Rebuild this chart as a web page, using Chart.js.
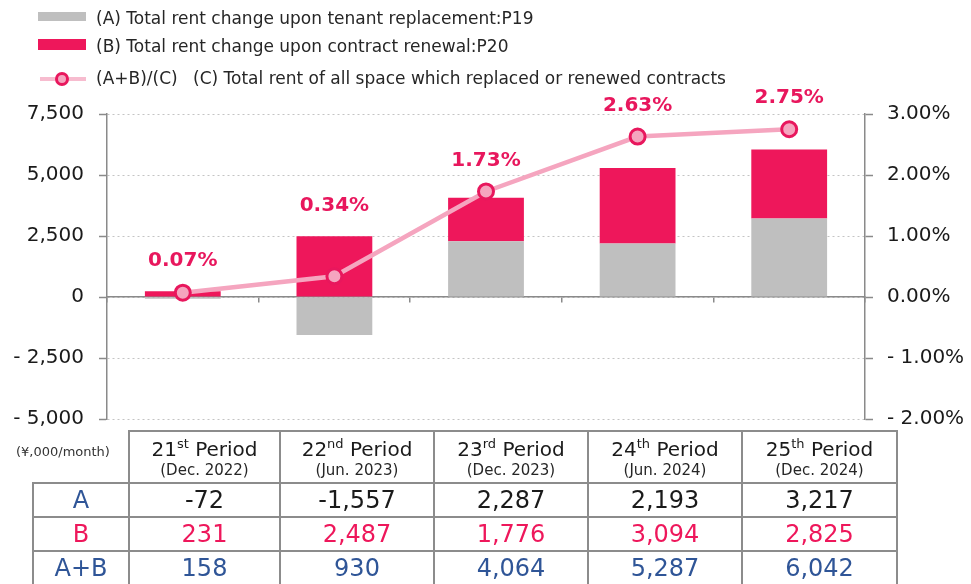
<!DOCTYPE html>
<html>
<head>
<meta charset="utf-8">
<script src="https://cdn.jsdelivr.net/npm/chart.js@4"></script>
<style>
html,body{margin:0;padding:0;background:#fff;}
body{width:971px;height:584px;position:relative;overflow:hidden;font-family:"DejaVu Sans",sans-serif;color:#262626;}
#c{position:absolute;left:0;top:0;}
.lg{position:absolute;font-size:17px;line-height:20px;white-space:nowrap;color:#262626;}
.sw{position:absolute;}
#unit{position:absolute;left:16px;top:443px;font-size:13px;line-height:18px;color:#333;white-space:nowrap;}
#tbl{position:absolute;left:32px;top:430px;border-collapse:collapse;table-layout:fixed;width:864px;}
#tbl td{border:2px solid #8C8C8C;text-align:center;padding:0;white-space:nowrap;}
#tbl td.blank{border:none;}
#tbl tr.hd td{height:50px;vertical-align:top;}
#tbl tr.row td{height:32px;font-size:24px;line-height:32px;}
.p1{font-size:20px;line-height:24px;padding-top:5px;color:#1a1a1a;}
.p1 sup{font-size:13px;line-height:0;vertical-align:8px;}
.p2{font-size:15px;line-height:18px;color:#262626;}
</style>
</head>
<body>
<canvas id="c" width="971" height="584"></canvas>

<div class="sw" style="left:38px;top:12px;width:48px;height:9px;background:#BFBFBF;"></div>
<div class="lg" id="lg1" style="left:96px;top:8px;"></div>
<div class="sw" style="left:38px;top:39px;width:48px;height:11px;background:#EE175B;"></div>
<div class="lg" id="lg2" style="left:96px;top:36px;"></div>
<div class="sw" style="left:40px;top:77px;width:46px;height:4px;background:#F7BCCF;"></div>
<div class="sw" style="left:55px;top:72px;width:8px;height:8px;border:3px solid #E8175D;border-radius:50%;background:#F5A5BF;"></div>
<div class="lg" id="lg3a" style="left:96px;top:68px;"></div>
<div class="lg" id="lg3b" style="left:193px;top:68px;"></div>

<div id="unit">(¥,000/month)</div>
<table id="tbl"></table>

<script>
// ---- data ----
const periodNums = ['21', '22', '23', '24', '25'];
const periodSuffix = ['st', 'nd', 'rd', 'th', 'th'];
const periodDates = ['(Dec. 2022)', '(Jun. 2023)', '(Dec. 2023)', '(Jun. 2024)', '(Dec. 2024)'];
const seriesA = [-72, -1557, 2287, 2193, 3217];
const seriesB = [231, 2487, 1776, 3094, 2825];
const seriesAB = [158, 930, 4064, 5287, 6042];
const ratioPct = [0.07, 0.34, 1.73, 2.63, 2.75];
const leftTicks = [-5000, -2500, 0, 2500, 5000, 7500];
const rightTicks = [-2, -1, 0, 1, 2, 3];
const legendA = '(A) Total rent change upon tenant replacement:P19';
const legendB = '(B) Total rent change upon contract renewal:P20';
const legendC1 = '(A+B)/(C)';
const legendC2 = '(C) Total rent of all space which replaced or renewed contracts';
const rowLabels = ['A', 'B', 'A+B'];

document.getElementById('lg1').textContent = legendA;
document.getElementById('lg2').textContent = legendB;
document.getElementById('lg3a').textContent = legendC1;
document.getElementById('lg3b').textContent = legendC2;

const categories = periodNums.map((n, i) => n + periodSuffix[i] + ' Period');

// ---- table ----
const fmt = v => v.toLocaleString('en-US');
const tbl = document.getElementById('tbl');
let html = '<colgroup><col style="width:96px"><col style="width:151px"><col style="width:154px"><col style="width:154px"><col style="width:154px"><col style="width:155px"></colgroup>';
html += '<tr class="hd"><td class="blank"></td>';
periodNums.forEach((n, i) => {
  html += '<td><div class="p1">' + n + '<sup>' + periodSuffix[i] + '</sup> Period</div><div class="p2">' + periodDates[i] + '</div></td>';
});
html += '</tr>';
const rowData = [seriesA, seriesB, seriesAB];
const rowLabelColors = ['#2F5597', '#EE175B', '#2F5597'];
const rowValColors = ['#1a1a1a', '#EE175B', '#2F5597'];
rowData.forEach((arr, r) => {
  html += '<tr class="row"><td style="color:' + rowLabelColors[r] + '">' + rowLabels[r] + '</td>';
  arr.forEach(v => { html += '<td style="color:' + rowValColors[r] + '">' + fmt(v) + '</td>'; });
  html += '</tr>';
});
tbl.innerHTML = html;

// ---- chart ----
Chart.defaults.font.family = '"DejaVu Sans", sans-serif';
Chart.defaults.color = '#262626';

const labelPlugin = {
  id: 'pctLabels',
  afterDatasetsDraw(chart) {
    const ctx = chart.ctx;
    const lineMeta = chart.getDatasetMeta(0);
    const aMeta = chart.getDatasetMeta(1);
    const bMeta = chart.getDatasetMeta(2);
    ctx.save();
    ctx.font = 'bold 20px "DejaVu Sans", sans-serif';
    ctx.fillStyle = '#E8175D';
    ctx.textAlign = 'center';
    ctx.textBaseline = 'middle';
    lineMeta.data.forEach((pt, i) => {
      const top = Math.min(pt.y, aMeta.data[i].y, bMeta.data[i].y);
      ctx.fillText(ratioPct[i].toFixed(2) + '%', pt.x, top - 31);
    });
    ctx.restore();
  }
};

const axisGray = '#8A8A8A';
new Chart(document.getElementById('c'), {
  type: 'bar',
  data: {
    labels: categories,
    datasets: [
      {
        type: 'line', label: legendC1, data: ratioPct, yAxisID: 'y2', order: 0,
        borderColor: '#F5A5BF', borderWidth: 4.5, tension: 0,
        pointRadius: 7.5, pointBorderWidth: 3, pointBorderColor: '#E8175D', pointBackgroundColor: '#F5A5BF'
      },
      {
        label: legendA, data: seriesA, backgroundColor: '#BFBFBF', yAxisID: 'y', stack: 's', order: 1,
        barPercentage: 0.5, categoryPercentage: 1
      },
      {
        label: legendB, data: seriesB, backgroundColor: '#EE175B', yAxisID: 'y', stack: 's', order: 2,
        barPercentage: 0.5, categoryPercentage: 1
      }
    ]
  },
  options: {
    responsive: false,
    animation: false,
    layout: { padding: { top: 114, bottom: 165, left: 0, right: 0 } },
    plugins: { legend: { display: false }, tooltip: { enabled: false } },
    scales: {
      x: {
        position: { y: 0 }, stacked: true,
        ticks: { display: false },
        grid: { drawOnChartArea: false, offset: true, tickLength: 5, color: axisGray, lineWidth: 1.5 },
        border: { color: axisGray, width: 1.5 }
      },
      y: {
        position: 'left', stacked: true, min: -5000, max: 7500,
        afterBuildTicks: s => { s.ticks = leftTicks.map(v => ({ value: v })); },
        afterFit: s => { s.width = 107; },
        ticks: {
          padding: 15, color: '#1a1a1a', font: { size: 20 },
          callback: v => v < 0 ? '- ' + fmt(Math.abs(v)) : fmt(v)
        },
        grid: { color: '#C4C4C4', lineWidth: 1, tickColor: axisGray, tickLength: 8, tickWidth: 1.5 },
        border: { color: axisGray, width: 1.5, dash: [2, 3] }
      },
      y2: {
        position: 'right', min: -2, max: 3,
        afterBuildTicks: s => { s.ticks = rightTicks.map(v => ({ value: v })); },
        afterFit: s => { s.width = 106; },
        ticks: {
          padding: 14, color: '#1a1a1a', font: { size: 20 },
          callback: v => v < 0 ? '- ' + Math.abs(v).toFixed(2) + '%' : v.toFixed(2) + '%'
        },
        grid: { drawOnChartArea: false, tickColor: axisGray, tickLength: 8, tickWidth: 1.5 },
        border: { color: axisGray, width: 1.5 }
      }
    }
  },
  plugins: [labelPlugin]
});
</script>
</body>
</html>
